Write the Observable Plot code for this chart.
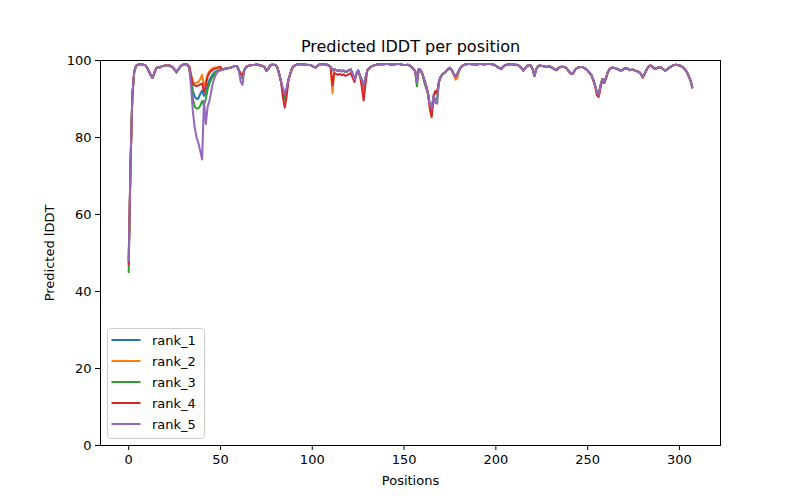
<!DOCTYPE html>
<html>
<head>
<meta charset="utf-8">
<script src="https://cdn.jsdelivr.net/npm/d3@7"></script>
<script src="https://cdn.jsdelivr.net/npm/@observablehq/plot@0.6"></script>
<style>
  html, body { margin: 0; padding: 0; background: white; }
  #wrap { position: relative; width: 800px; height: 500px; font-family: "DejaVu Sans", sans-serif; }
  #legend { position: absolute; left: 107px; top: 328px; }
</style>
</head>
<body>
<div id="wrap">
  <div id="chart"></div>
  <svg id="legend" width="98" height="111"></svg>
</div>
<script>
const title = "Predicted lDDT per position";
const xLabel = "Positions";
const yLabel = "Predicted lDDT";
const ranks = ["rank_1", "rank_2", "rank_3", "rank_4", "rank_5"];
const colors = ["#1f77b4", "#ff7f0e", "#2ca02c", "#d62728", "#9467bd"];
const xTicks = [0, 50, 100, 150, 200, 250, 300];
const yTicks = [0, 20, 40, 60, 80, 100];

// shared profile (rank_1), positions 0..307
const base = [
  48, 73, 91, 97, 98.6, 98.9, 99, 99, 98.9, 98.8,
  98.2, 97.2, 96.2, 95.5, 96.8, 98, 98.3, 98.2, 98.5, 98.6,
  98.7, 98.8, 98.7, 98.5, 98.2, 97.6, 97.2, 97.6, 98.4, 98.8,
  99, 99, 98.9, 98.3, 95.5, 92, 90.6, 90, 90.2, 91.3,
  92.2, 90.8, 91.5, 93.5, 95, 95.8, 96.5, 97, 97.3, 97.5,
  97.7, 97.6, 97.8, 97.9, 98, 98.1, 98.2, 98.4, 98.6, 98.5,
  97.5, 96.5, 96.3, 97.5, 98.3, 98.6, 98.7, 98.8, 98.8, 98.9,
  99, 98.8, 98.7, 98.6, 98.3, 97.3, 97.8, 98.7, 98.9, 98.9,
  98.8, 98.2, 96.5, 94.5, 92, 90, 92, 95, 96.5, 98,
  98.6, 98.8, 99, 99, 99, 99, 98.9, 98.9, 98.8, 98.8,
  98.6, 98.3, 98.2, 98.7, 99, 99, 99, 99, 98.9, 98.7,
  98.3, 97.5, 97.8, 97.5, 97.3, 97.5, 97.2, 97.4, 97, 97.2,
  97.5, 97.7, 96.5, 95, 96.5, 97.4, 96, 95, 93.5, 95.5,
  97.5, 98, 98.4, 98.6, 98.8, 98.9, 99, 99, 99, 99,
  99.1, 99.1, 99, 98.9, 98.9, 99, 99.1, 99.1, 99, 98.9,
  98.8, 98.8, 98.9, 98.7, 98.3, 97.8, 97.3, 94.5, 97.8, 97.5,
  96.5, 95, 93.5, 91.5, 88.5, 86.5, 90.5, 92, 91.5, 94.5,
  95.8, 96.5, 96.8, 97.3, 97.8, 98.1, 97.5, 96.5, 95.8, 96.5,
  97.5, 98.3, 98.7, 98.9, 99, 99.1, 99.1, 99, 99, 98.9,
  99, 99.1, 99.1, 99, 99, 99.1, 99.1, 99.1, 99, 98.9,
  98.6, 98.3, 98, 97.8, 98.4, 98.8, 98.9, 99, 99, 99,
  98.9, 98.9, 98.8, 98.5, 98, 97.4, 98, 98.6, 98.8, 98.7,
  97.8, 96, 97.8, 98.5, 98.7, 98.6, 98.5, 98.3, 98.4, 98.5,
  98.3, 98, 97.7, 97.5, 98, 98.3, 98.4, 98.3, 98.2, 97.7,
  97, 96.5, 96.6, 97.5, 98, 98.2, 98.3, 98.3, 98.1, 97.8,
  97.4, 96.8, 96.2, 95, 93.5, 91.8, 91, 93.5, 95.2, 94.2,
  95.5, 97, 97.8, 98.1, 98.1, 98, 97.8, 97.6, 97.4, 97.5,
  97.9, 98, 97.8, 97.5, 97.6, 97.6, 97.3, 97.2, 97, 96.5,
  95.6, 96.5, 97.5, 98.3, 98.7, 98.5, 98, 97.8, 98.1, 98.3,
  98.2, 97.8, 97.4, 97.5, 98, 98.3, 98.6, 98.8, 98.9, 98.8,
  98.7, 98.5, 98.2, 97.7, 97, 96, 94.8, 93
];

// where each rank departs from the shared profile: [start position, values...]
const rank1Segments = [
  [0, [48]]
];
const rank2Segments = [
  [0, [48.5]],
  [33, [98.5, 96.5, 94.3, 94, 94.2, 94.5, 95.2, 96.3, 93.5, 94.5, 96.5, 97.3, 97.8, 98, 98.2, 98.2, 98.3, 98.4]],
  [111, [91.5]],
  [128, [92.2]],
  [164, [87.5, 85.3]],
  [178, [95, 95.4]]
];
const rank3Segments = [
  [0, [45]],
  [26, [96.8]],
  [33, [98.2, 94.5, 90, 88, 87.5, 87.6, 88.2, 89.5, 88.5, 90, 92.5, 94, 95.2, 96, 96.8, 97.2, 97.5, 97.7]],
  [61, [95.6, 95.4]],
  [157, [93.3]],
  [161, [94.3, 92.8]],
  [167, [90, 89.8]]
];
const rank4Segments = [
  [0, [47]],
  [33, [98.4, 96, 94, 93.5, 93.4, 93.5, 93.8, 94, 91.8, 93.5, 95.8, 96.8, 97.3, 97.6, 97.9, 98, 98.2, 98.3]],
  [84, [90.5, 87.8, 90.5]],
  [111, [93.5, 96.8, 96.5, 96.3, 96.5, 96.2, 96.4, 96, 96.2, 96.5, 96.7, 95.5, 94.4]],
  [127, [93, 89.6, 94]],
  [164, [87.8, 85.3]],
  [255, [91, 90.5, 92.8]]
];
const rank5Segments = [
  [0, [48]],
  [33, [98, 93, 86.5, 82.5, 80, 78.5, 76.5, 74.3, 89.5, 83.5, 88, 89.5, 92, 94.5, 95.8, 96.8, 97.2, 97.4]],
  [61, [94.5, 93.7]],
  [84, [93, 91.3, 93]],
  [157, [94.4]],
  [165, [87.5, 91, 89, 88.8]]
];
const segments = [rank1Segments, rank2Segments, rank3Segments, rank4Segments, rank5Segments];

const data = [];
ranks.forEach((rank, r) => {
  const vals = base.slice();
  for (const [start, values] of segments[r]) values.forEach((v, k) => { vals[start + k] = v; });
  vals.forEach((v, i) => data.push({rank, pos: i, value: v}));
});

const chart = Plot.plot({
  width: 800,
  height: 500,
  marginLeft: 100,
  marginRight: 80,
  marginTop: 60,
  marginBottom: 55,
  style: {fontFamily: "DejaVu Sans, sans-serif", fontSize: "13px", color: "black", background: "white"},
  x: {domain: [-15.35, 322.35], ticks: xTicks, tickFormat: d => String(d), tickSize: 5, tickPadding: 4,
      label: xLabel, labelAnchor: "center", labelArrow: "none", labelOffset: 39},
  y: {domain: [0, 100], ticks: yTicks, tickFormat: d => String(d), tickSize: 5, tickPadding: 4,
      label: yLabel, labelAnchor: "center", labelArrow: "none", labelOffset: 56},
  color: {domain: ranks, range: colors},
  marks: [
    Plot.line(data, {x: "pos", y: "value", z: "rank", stroke: "rank", strokeWidth: 2, strokeLinejoin: "round"}),
    Plot.frame({stroke: "black", strokeWidth: 1}),
    Plot.text([title], {text: d => d, frameAnchor: "top", lineAnchor: "bottom", dy: -9, fontSize: 16})
  ]
});
document.getElementById("chart").appendChild(chart);

// legend
const leg = d3.select("#legend");
leg.append("rect").attr("x", 0.5).attr("y", 0.5).attr("width", 97).attr("height", 110)
  .attr("rx", 3).attr("fill", "rgba(255,255,255,0.8)").attr("stroke", "#cccccc");
const item = leg.selectAll("g.item").data(ranks).join("g").attr("class", "item")
  .attr("transform", (d, i) => `translate(0, ${12 + i * 21})`);
item.append("line").attr("x1", 4.5).attr("x2", 33.5).attr("y1", 0).attr("y2", 0)
  .attr("stroke", (d, i) => colors[i]).attr("stroke-width", 2);
item.append("text").attr("x", 45).attr("y", 0).attr("dy", "0.35em")
  .attr("font-family", "DejaVu Sans, sans-serif").attr("font-size", "13px").attr("fill", "black")
  .text(d => d);
</script>
</body>
</html>
